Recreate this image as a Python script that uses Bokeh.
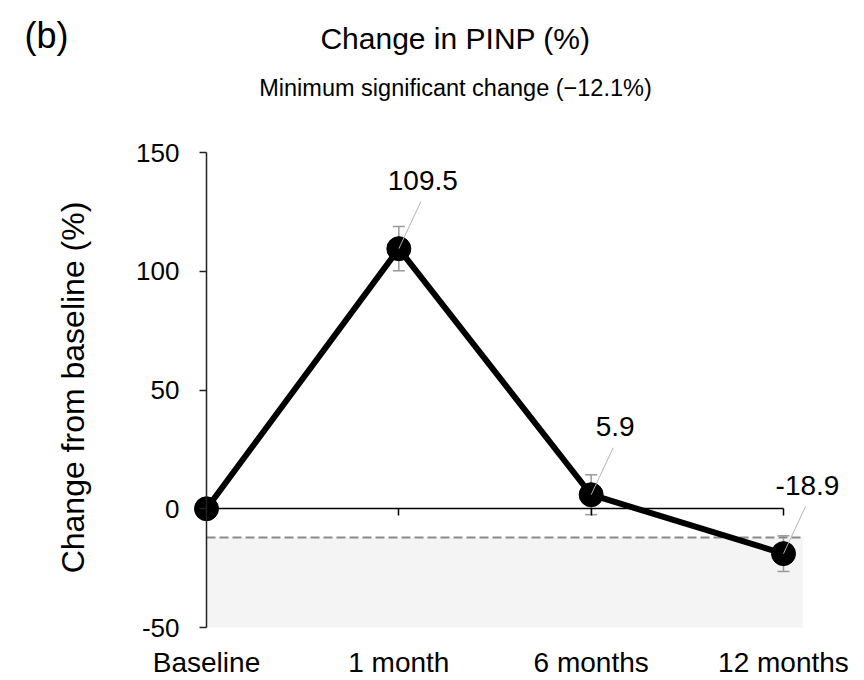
import math
from bokeh.plotting import figure
from bokeh.models import (FixedTicker, LinearAxis, BoxAnnotation, Whisker, Range1d,
                          ColumnDataSource, Label, LabelSet, TeeHead)
from bokeh.core.properties import value
from bokeh.embed import file_html
from bokeh.resources import INLINE

# ---- data ----
categories = ["Baseline", "1 month", "6 months", "12 months"]
change_pct = [0.0, 109.5, 5.9, -18.9]
error_pct = [0.0, 9.3, 8.4, 7.5]
value_labels = ["", "109.5", "5.9", "-18.9"]
y_ticks = [-50, 0, 50, 100, 150]
msc_pct = -12.1

FONT = "Liberation Sans"
W, H = 864, 680

# ---- layout: the frame fills the canvas; axes are drawn at fixed locations ----
Y_MIN, Y_MAX = y_ticks[0], y_ticks[-1]
AX_LEFT, AX_TOP, AX_BOTTOM = 206.0, 152.0, 627.0      # pixel box of the axes
X_UNIT = 192.33                                       # px per category step
Y_UNIT = (AX_BOTTOM - AX_TOP) / (Y_MAX - Y_MIN)


def dx(px):
    return (px - AX_LEFT) / X_UNIT


def dy(py):
    return Y_MIN + (AX_BOTTOM - py) / Y_UNIT


xs = list(range(len(categories)))
x_end = xs[-1] + 0.1

src = ColumnDataSource(dict(
    x=xs, y=change_pct,
    upper=[v + e for v, e in zip(change_pct, error_pct)],
    lower=[v - e for v, e in zip(change_pct, error_pct)],
    label=value_labels,
))

p = figure(width=W, height=H,
           x_range=Range1d(dx(0), dx(W)), y_range=Range1d(dy(H), dy(0)),
           x_axis_location=None, y_axis_location=None,
           output_backend="svg", toolbar_location=None,
           min_border=0, min_border_left=0, min_border_right=0,
           min_border_top=0, min_border_bottom=0)
p.grid.visible = False
p.outline_line_color = None
p.background_fill_color = "white"
p.border_fill_color = "white"

# shaded region below minimum significant change
p.add_layout(BoxAnnotation(left=xs[0], right=x_end, bottom=Y_MIN, top=msc_pct,
                           fill_color="#f4f4f4", fill_alpha=1.0,
                           line_color=None, level="underlay"))
p.segment(x0=[xs[0]], y0=[msc_pct], x1=[x_end], y1=[msc_pct],
          line_color="#8a8a8a", line_width=2, line_dash="9 4")

# error bars
head = dict(size=12, line_color="#9a9a9a", line_width=1.5)
p.add_layout(Whisker(source=src, base="x", upper="upper", lower="lower",
                     line_color="#9a9a9a", line_width=1.5, level="underlay",
                     upper_head=TeeHead(**head), lower_head=TeeHead(**head)))

# y axis
yax = LinearAxis(fixed_location=xs[0], bounds=(Y_MIN, Y_MAX),
                 ticker=FixedTicker(ticks=y_ticks),
                 major_label_overrides={t: str(t) for t in y_ticks},
                 major_label_text_font=FONT, major_label_text_font_size="26px",
                 major_label_text_color="black", major_label_standoff=20,
                 major_tick_out=7, major_tick_in=0, minor_tick_line_color=None,
                 axis_line_color="#222222", axis_line_width=1.5,
                 major_tick_line_color="#222222", major_tick_line_width=1.5)
p.add_layout(yax, "left")

# category labels along the bottom
cax = LinearAxis(fixed_location=Y_MIN, ticker=FixedTicker(ticks=xs),
                 major_label_overrides={i: c for i, c in enumerate(categories)},
                 major_label_text_font=FONT, major_label_text_font_size="28px",
                 major_label_text_color="black", major_label_standoff=19,
                 axis_line_color=None, major_tick_line_color=None,
                 minor_tick_line_color=None, major_tick_out=0, major_tick_in=0)
p.add_layout(cax, "below")

# zero line with downward ticks
zax = LinearAxis(fixed_location=0, bounds=(xs[0], xs[-1]),
                 ticker=FixedTicker(ticks=xs[1:]),
                 major_tick_out=7, major_tick_in=0,
                 major_label_text_font_size="0px", major_label_text_color=None,
                 minor_tick_line_color=None,
                 axis_line_color="black", axis_line_width=1.5,
                 major_tick_line_color="black", major_tick_line_width=1.5)
p.add_layout(zax, "below")

# line & markers
p.line("x", "y", source=src, line_color="black", line_width=6)
p.scatter("x", "y", source=src, size=24, fill_color="black", line_color="black")

# leader lines to value labels
lab_idx = [i for i, t in enumerate(value_labels) if t]
lead = ColumnDataSource(dict(
    x0=[xs[i] for i in lab_idx], y0=[change_pct[i] for i in lab_idx],
    x1=[xs[i] + 22 / X_UNIT for i in lab_idx],
    y1=[change_pct[i] + 47 / Y_UNIT for i in lab_idx],
))
p.segment("x0", "y0", "x1", "y1", source=lead, line_color="#b4b4b4", line_width=1)

p.add_layout(LabelSet(x="x", y="y", text="label", source=src, x_offset=24, y_offset=68,
                      text_align="center", text_baseline="middle",
                      text_font=value(FONT), text_font_size=value("28px"),
                      text_color="black"))

# titles
p.add_layout(Label(x=dx(46), y=dy(35), text="(b)", text_font=FONT, text_color="black",
                   text_font_size="36px", text_align="center", text_baseline="middle"))
p.add_layout(Label(x=dx(455), y=dy(38), text="Change in PINP (%)", text_font=FONT,
                   text_color="black", text_font_size="30px",
                   text_align="center", text_baseline="middle"))
p.add_layout(Label(x=dx(455), y=dy(87), text="Minimum significant change (\u221212.1%)",
                   text_font=FONT, text_color="black", text_font_size="23.5px",
                   text_align="center", text_baseline="middle"))
p.add_layout(Label(x=dx(72), y=dy(387), text="Change from baseline (%)", text_font=FONT,
                   text_color="black", text_font_size="32px", angle=math.pi / 2,
                   text_align="center", text_baseline="middle"))

open("out.html", "w").write(file_html(p, INLINE))
